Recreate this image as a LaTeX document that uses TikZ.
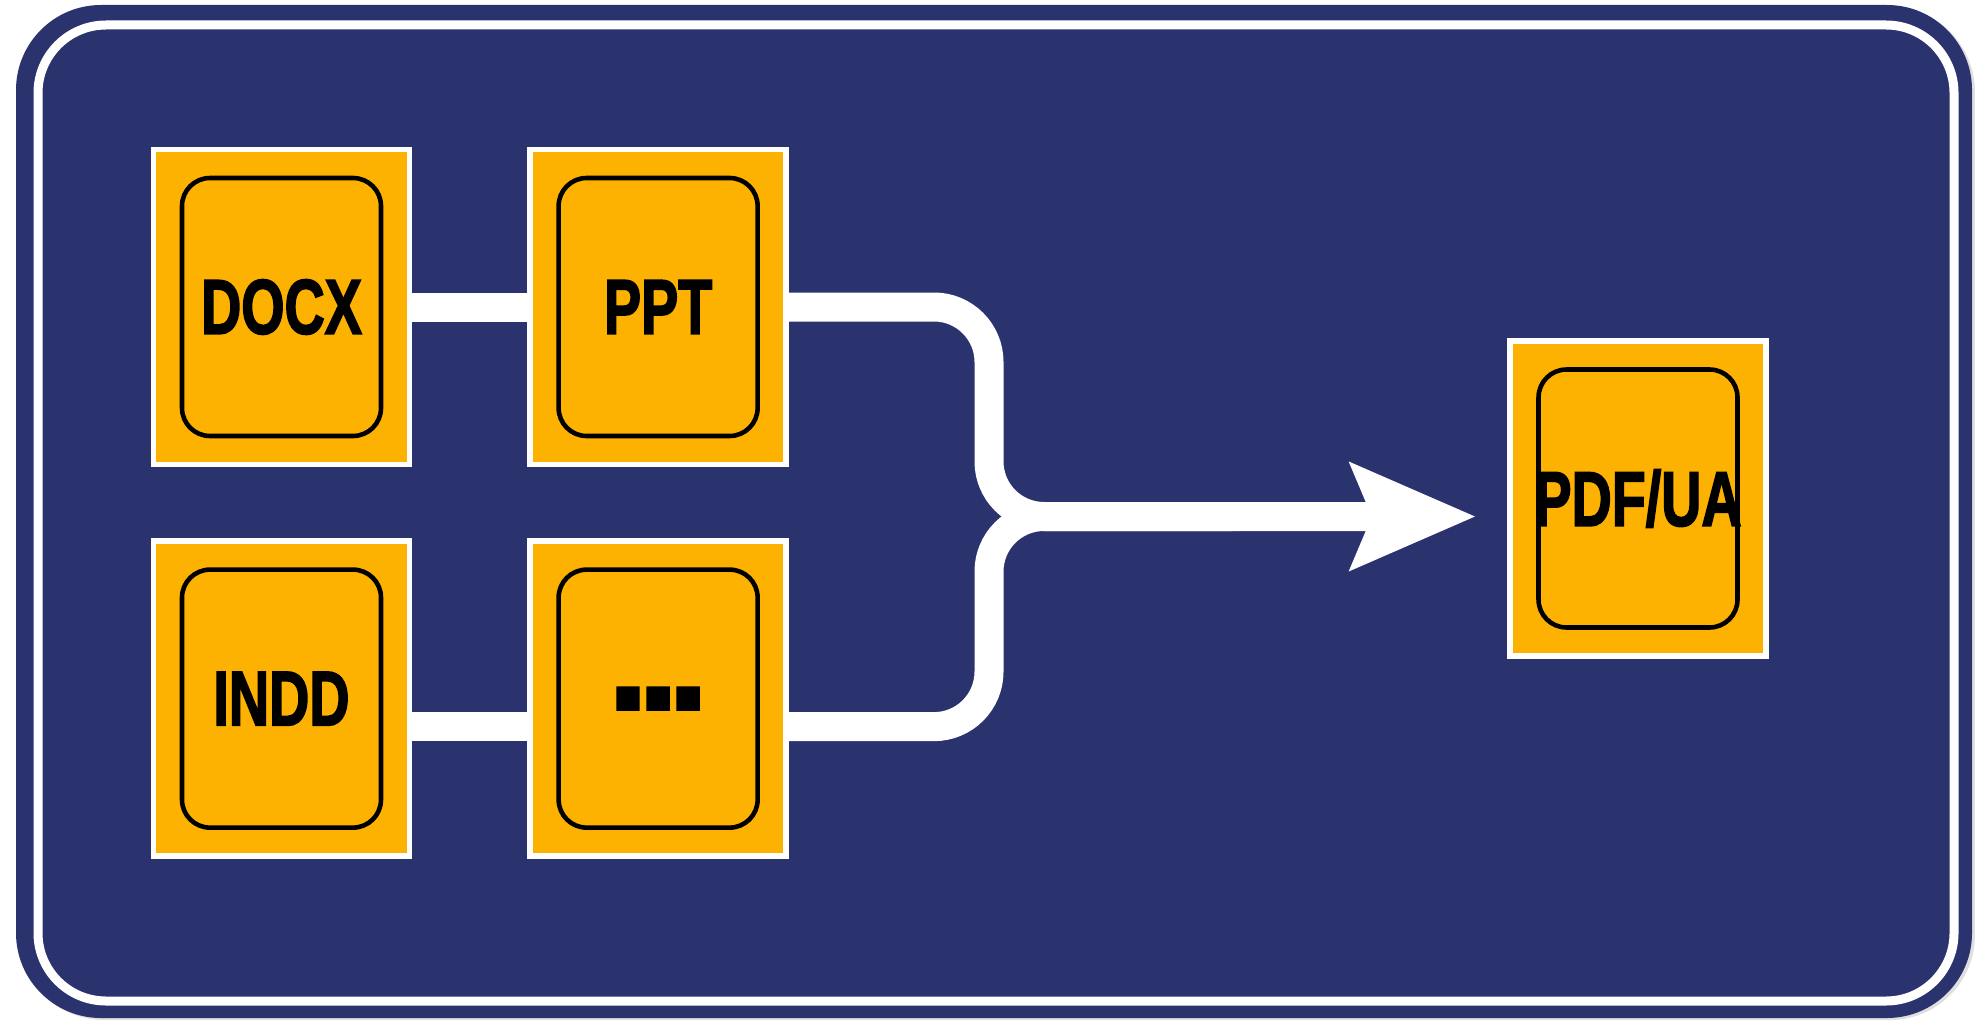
\documentclass[tikz,border=0pt]{standalone}
\usepackage{fontspec}
\usepackage{graphicx}
\newfontfamily\boxfont[FakeBold=2.5]{Liberation Sans Bold}
\newcommand{\ftype}[1]{\scalebox{0.72}[1]{#1}}
\usepackage{tikz}
\usetikzlibrary{arrows.meta}
\usetikzlibrary{calc}
\usetikzlibrary{positioning}
\usetikzlibrary{shadows}
\definecolor{panelblue}{RGB}{43,51,110}
\definecolor{fileorange}{RGB}{253,177,0}

\begin{document}
\begin{tikzpicture}
  [
    node distance = 0.71cm and 1.15cm,
    filebox/.style = {rectangle, draw=white, line width=1.6pt, fill=fileorange,
                  minimum width=2.56cm, minimum height=3.15cm, inner sep=0pt,
                  font=\boxfont\fontsize{22}{22}\selectfont,
                  path picture={\draw[black, line width=1.3pt, rounded corners=0.28cm]
                    ([shift={(0.285cm,0.285cm)}]path picture bounding box.south west) rectangle
                    ([shift={(-0.285cm,-0.285cm)}]path picture bounding box.north east);}},
    linkline/.style = {white, line width=0.29cm},
    flowline/.style = {linkline, rounded corners=0.55cm},
    bigarrow/.style = {-{Stealth[length=1.24cm, width=1.04cm, inset=0.2cm]}},
  ]

  \useasboundingbox (0,0) rectangle (19.75,10.21);
  \fill[panelblue, rounded corners=0.85cm,
        drop shadow={shadow xshift=0.03cm, shadow yshift=-0.02cm, opacity=0.25}]
    (0.16,0.03) rectangle (19.72,10.16);
  \draw[white, line width=0.09cm, rounded corners=0.68cm] (0.38,0.20) rectangle (19.54,9.96);

  \node[filebox] (docx) at (2.815,7.14) {\ftype{DOCX}};
  \node[filebox] [right = of docx] (ppt) {\ftype{PPT}};
  \node[filebox] [below = of docx] (indd) {\ftype{INDD}};
  \node[filebox] [right = of indd] (more) {{\fontsize{40}{40}\selectfont .\kern-0.9mm.\kern-0.9mm.}};
  \node[filebox] (pdfua) at (16.38,5.225) {\raisebox{-0.15cm}{\ftype{PDF/UA}}};

  \coordinate (join) at (9.89,5.045);
  \coordinate (arrowend) at (14.76,5.045);

  \draw[linkline] (docx) -- (ppt);
  \draw[linkline] ([yshift=-0.28cm]indd.east) -- ([yshift=-0.28cm]more.west);
  \draw[flowline, bigarrow] (ppt.east) -| (join) -- (arrowend);
  \draw[flowline] ([yshift=-0.28cm]more.east) -| (join) -- ($(join)!0.5!(arrowend)$);

\end{tikzpicture}
\end{document}
